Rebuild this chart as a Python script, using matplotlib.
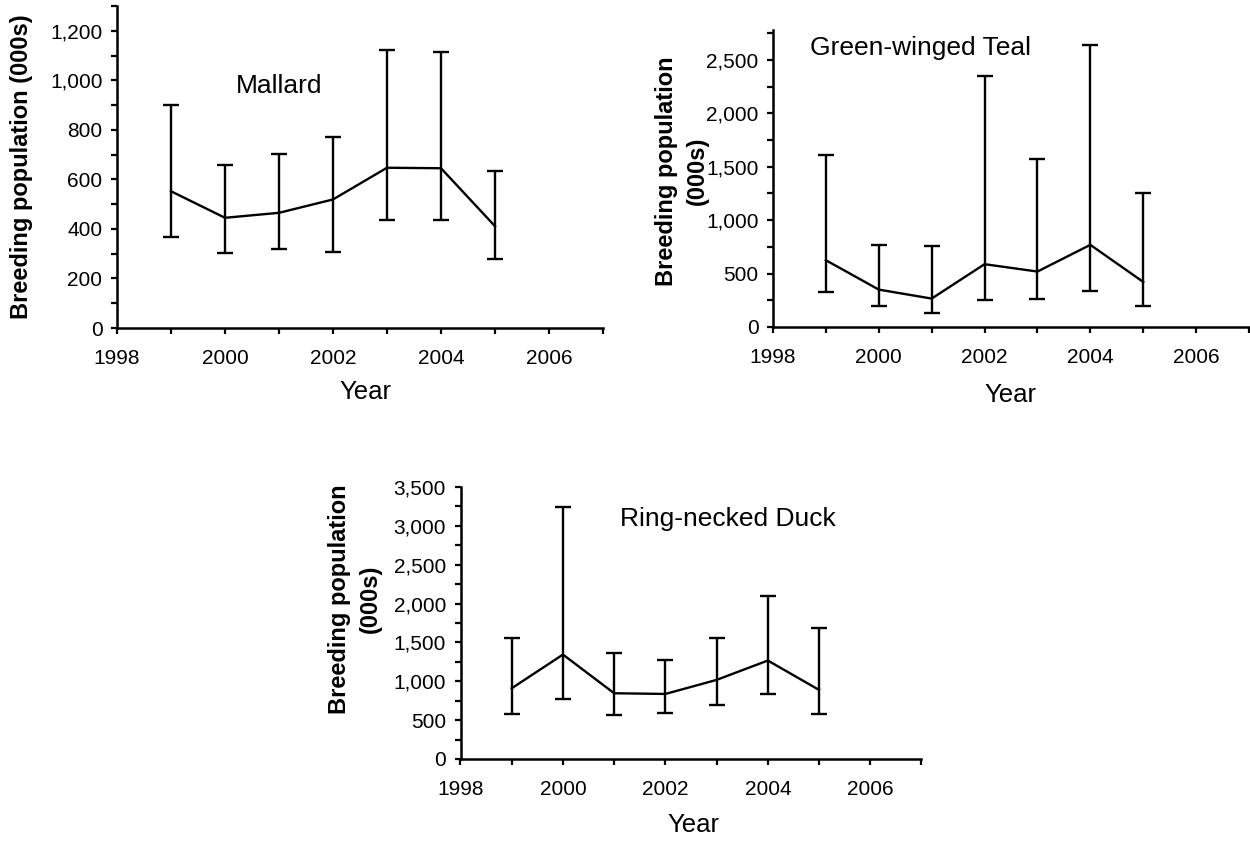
import matplotlib
matplotlib.use("Agg")
import matplotlib.pyplot as plt
from matplotlib.ticker import MultipleLocator, FuncFormatter

plt.rcParams['font.family'] = ['Liberation Sans', 'DejaVu Sans']

years = [1999, 2000, 2001, 2002, 2003, 2004, 2005]

mallard_mean = [552, 445, 465, 519, 647, 645, 411]
mallard_upper = [900, 658, 704, 771, 1123, 1115, 634]
mallard_lower = [368, 303, 320, 307, 437, 438, 280]

teal_mean = [625, 350, 266, 588, 519, 769, 422]
teal_upper = [1610, 769, 759, 2353, 1572, 2641, 1256]
teal_lower = [325, 200, 128, 250, 259, 341, 194]

ring_mean = [910, 1344, 846, 837, 1018, 1267, 889]
ring_upper = [1563, 3242, 1370, 1275, 1554, 2095, 1692]
ring_lower = [584, 769, 571, 593, 700, 842, 580]

W, H = 1250, 841
fig = plt.figure(figsize=(W / 100, H / 100), dpi=100)


def px_axes(left, top, right, bottom):
    return fig.add_axes([left / W, 1 - bottom / H, (right - left) / W, (bottom - top) / H])


def panel(ax, mean, lower, upper, ymax, ymajor, yminor, title, tx, ty):
    yerr = [[m - lo for m, lo in zip(mean, lower)], [u - m for m, u in zip(mean, upper)]]
    ax.errorbar(years, mean, yerr=yerr, color='black', lw=1.7, elinewidth=1.7,
                capsize=5.5, capthick=1.7)
    ax.set_xlim(1998, 2007)
    ax.set_ylim(0, ymax)
    ax.xaxis.set_major_locator(MultipleLocator(2))
    ax.xaxis.set_minor_locator(MultipleLocator(1))
    ax.yaxis.set_major_locator(MultipleLocator(ymajor))
    ax.yaxis.set_minor_locator(MultipleLocator(yminor))
    ax.yaxis.set_major_formatter(FuncFormatter(lambda v, p: f"{int(v):,}"))
    for s in ['top', 'right']:
        ax.spines[s].set_visible(False)
    for s in ['left', 'bottom']:
        ax.spines[s].set_linewidth(1.8)
    ax.tick_params(which='both', direction='out', width=1.6, length=4.5, labelsize=15)
    ax.tick_params(axis='x', which='major', pad=10.5)
    ax.tick_params(axis='y', which='major', pad=6)
    ax.text(tx, ty, title, fontsize=19, va='center', ha='left')


ax1 = px_axes(117, 6, 603, 328)
panel(ax1, mallard_mean, mallard_lower, mallard_upper, 1300, 200, 100, 'Mallard', 2000.2, 977)

ax2 = px_axes(773, 30, 1249, 327)
panel(ax2, teal_mean, teal_lower, teal_upper, 2780, 500, 250, 'Green-winged Teal', 1998.7, 2616)

ax3 = px_axes(460.5, 487, 921.5, 759)
panel(ax3, ring_mean, ring_lower, ring_upper, 3500, 500, 250, 'Ring-necked Duck', 2001.12, 3083)

# axis titles
lab = dict(fontsize=17, fontweight='bold', rotation=90, ha='center', va='center',
           multialignment='center', linespacing=1.4)
fig.text(22 / W, 1 - 167 / H, 'Breeding population (000s)', **lab)
fig.text(682 / W, 1 - 171 / H, 'Breeding population\n(000s)', **lab)
fig.text(355 / W, 1 - 599 / H, 'Breeding population\n(000s)', **lab)

yr = dict(fontsize=18.5, ha='center', va='center')
fig.text(365 / W, 1 - 392 / H, 'Year', **yr)
fig.text(1010 / W, 1 - 395 / H, 'Year', **yr)
fig.text(693 / W, 1 - 825 / H, 'Year', **yr)

fig.savefig('out.png', dpi=100)
